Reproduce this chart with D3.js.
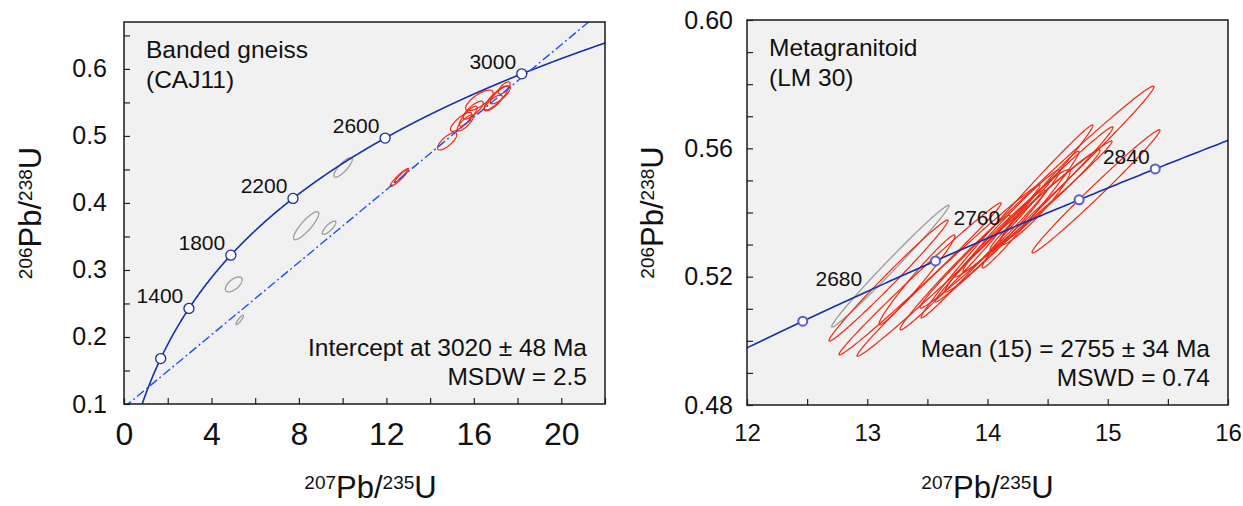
<!DOCTYPE html>
<html>
<head>
<meta charset="utf-8">
<script src="https://cdn.jsdelivr.net/npm/d3@7"></script>
<style>
  body { margin: 0; background: #fff; }
  svg { font-family: "Liberation Sans", Arial, sans-serif; }
</style>
</head>
<body>
<svg id="chart" width="1243" height="506"></svg>
<script>
// decay constants (per year)
const L238 = 1.55125e-10, L235 = 9.8485e-10;

// ---- left panel: Banded gneiss (CAJ11)
const leftXLabels = [0, 4, 8, 12, 16, 20];
const leftYLabels = [0.1, 0.2, 0.3, 0.4, 0.5, 0.6];
const leftMarkerAges = [1000, 1400, 1800, 2200, 2600, 3000];
const leftLabelAges = [1400, 1800, 2200, 2600, 3000];
const leftIntercepts = [760, 3020];
// [207Pb/235U, 206Pb/238U, err x, err y, rho]
const leftGray = [
  [10.02, 0.453, 0.42, 0.0146, 0.82],
  [8.33, 0.366, 0.577, 0.0209, 0.86],
  [9.38, 0.363, 0.307, 0.0100, 0.80],
  [5.02, 0.2785, 0.384, 0.0112, 0.61],
  [5.29, 0.2254, 0.17, 0.0070, 0.88]
];
const leftRed = [
  [12.60, 0.438, 0.42, 0.0133, 0.93],
  [12.66, 0.440, 0.30, 0.0100, 0.95],
  [14.78, 0.492, 0.44, 0.0130, 0.76],
  [15.42, 0.521, 0.49, 0.0142, 0.80],
  [16.25, 0.553, 0.627, 0.0154, 0.75],
  [15.74, 0.5295, 0.41, 0.0149, 0.85],
  [15.97, 0.5385, 0.458, 0.0134, 0.80],
  [15.61, 0.5194, 0.366, 0.0119, 0.80],
  [17.03, 0.5567, 0.55, 0.0179, 0.85],
  [17.21, 0.5612, 0.458, 0.0134, 0.80],
  [16.89, 0.5493, 0.41, 0.0119, 0.80],
  [17.39, 0.5716, 0.27, 0.0090, 0.70]
];

// ---- right panel: Metagranitoid (LM 30)
const rightXLabels = [12, 13, 14, 15, 16];
const rightYLabels = [0.48, 0.52, 0.56, 0.60];
const rightMarkerAges = [2640, 2720, 2800, 2840];
const rightLabelAges = [2680, 2760, 2840];
const rightGray = [
  [13.192, 0.5233, 0.488, 0.0190, 0.992]
];
const rightRed = [
  [13.177, 0.5188, 0.495, 0.01886, 0.991],
  [13.439, 0.5193, 0.674, 0.0237, 0.994],
  [13.676, 0.5219, 0.761, 0.0267, 0.994],
  [13.414, 0.5190, 0.316, 0.0140, 0.980],
  [14.412, 0.5448, 0.973, 0.0346, 0.994],
  [14.162, 0.5372, 0.715, 0.0301, 0.9945],
  [14.304, 0.5394, 0.740, 0.0273, 0.994],
  [14.383, 0.5411, 0.653, 0.0212, 0.993],
  [14.358, 0.5409, 0.403, 0.0182, 0.988],
  [14.902, 0.5466, 0.532, 0.0192, 0.991],
  [14.200, 0.5374, 0.403, 0.0159, 0.983],
  [14.062, 0.5311, 0.416, 0.0159, 0.983],
  [13.730, 0.5213, 0.457, 0.0179, 0.989],
  [14.478, 0.5439, 0.457, 0.0156, 0.985],
  [14.395, 0.5416, 0.291, 0.0117, 0.945]
];

const svg = d3.select("#chart");

function conc(ma) {
  const t = ma * 1e6;
  return [Math.exp(L235 * t) - 1, Math.exp(L238 * t) - 1];
}

function ellipsePts(d) {
  const [cx, cy, sx, sy, r] = d;
  const k = Math.sqrt(1 - r * r);
  return d3.range(0, 2 * Math.PI, Math.PI / 90)
    .map(a => [cx + sx * Math.cos(a), cy + sy * (r * Math.cos(a) + k * Math.sin(a))]);
}

function supText(sel, parts, big, small) {
  // parts: [sup, text, sup, text]
  sel.attr("font-size", big);
  sel.append("tspan").attr("font-size", small).attr("dy", -9).text(parts[0]);
  sel.append("tspan").attr("dy", 9).text(parts[1]);
  sel.append("tspan").attr("font-size", small).attr("dy", -9).text(parts[2]);
  sel.append("tspan").attr("dy", 9).text(parts[3]);
}

function panel(o) {
  const x = d3.scaleLinear().domain(o.xDom).range([o.left, o.right]);
  const y = d3.scaleLinear().domain(o.yDom).range([o.bottom, o.top]);
  const g = svg.append("g");

  g.append("rect")
    .attr("x", o.left).attr("y", o.top)
    .attr("width", o.right - o.left).attr("height", o.bottom - o.top)
    .attr("fill", "#f1f1f1");

  svg.append("clipPath").attr("id", "clip-" + o.id)
    .append("rect")
    .attr("x", o.left).attr("y", o.top)
    .attr("width", o.right - o.left).attr("height", o.bottom - o.top);

  const plot = g.append("g").attr("clip-path", `url(#clip-${o.id})`);

  const line = d3.line().x(p => x(p[0])).y(p => y(p[1]));
  const closed = d3.line().x(p => x(p[0])).y(p => y(p[1])).curve(d3.curveLinearClosed);

  plot.selectAll("path.gray")
    .data(o.gray)
    .join("path")
    .attr("class", "gray")
    .attr("d", d => closed(ellipsePts(d)))
    .attr("fill", "none")
    .attr("stroke", "#9b9b9b")
    .attr("stroke-width", 1.3);

  plot.selectAll("path.red")
    .data(o.red)
    .join("path")
    .attr("class", "red")
    .attr("d", d => closed(ellipsePts(d)))
    .attr("fill", "none")
    .attr("stroke", "#ee2a12")
    .attr("stroke-width", 1.2);

  // concordia curve
  const ages = d3.range(o.ageRange[0], o.ageRange[1], 2).concat([o.ageRange[1]]);
  plot.append("path")
    .attr("d", line(ages.map(conc)))
    .attr("fill", "none")
    .attr("stroke", "#1430a8")
    .attr("stroke-width", 1.6);

  // discordia
  if (o.intercepts) {
    const a = conc(o.intercepts[0]), b = conc(o.intercepts[1]);
    const s = (b[1] - a[1]) / (b[0] - a[0]);
    const ends = o.xDom.map(v => [v, a[1] + s * (v - a[0])]);
    plot.append("path")
      .attr("d", line(ends))
      .attr("fill", "none")
      .attr("stroke", "#2050f0")
      .attr("stroke-width", 1.4)
      .attr("stroke-dasharray", "9,3,2,3");
  }

  plot.selectAll("circle")
    .data(o.markers)
    .join("circle")
    .attr("cx", d => x(conc(d)[0]))
    .attr("cy", d => y(conc(d)[1]))
    .attr("r", o.markR)
    .attr("fill", "#fff")
    .attr("stroke", o.markColor)
    .attr("stroke-width", o.markW);

  g.selectAll("text.age")
    .data(o.labels)
    .join("text")
    .attr("class", "age")
    .attr("x", d => x(conc(d)[0]) - 29)
    .attr("y", d => y(conc(d)[1]) - 5)
    .attr("text-anchor", "middle")
    .attr("font-size", 21)
    .attr("fill", "#111")
    .text(d => d);

  // axes with inside ticks
  const near = (v, arr) => arr.some(m => Math.abs(m - v) < 1e-9);
  const xAxis = d3.axisBottom(x)
    .tickValues(o.xMinor)
    .tickSize(-6)
    .tickPadding(o.xPad)
    .tickFormat(v => near(v, o.xLabels) ? o.xFmt(v) : "");
  const gx = g.append("g")
    .attr("transform", `translate(0,${o.bottom})`)
    .call(xAxis);
  gx.select(".domain").remove();
  gx.selectAll("text").attr("font-size", o.xFont).attr("fill", "#111").attr("font-family", null);
  gx.selectAll("line").attr("stroke", "#222").attr("stroke-width", 1.2);

  const yAxis = d3.axisLeft(y)
    .tickValues(o.yMinor)
    .tickSize(-6)
    .tickPadding(o.yPad)
    .tickFormat(v => near(v, o.yLabels) ? o.yFmt(v) : "");
  const gy = g.append("g")
    .attr("transform", `translate(${o.left},0)`)
    .call(yAxis);
  gy.select(".domain").remove();
  gy.selectAll("text").attr("font-size", 25).attr("fill", "#111").attr("font-family", null);
  gy.selectAll("line").attr("stroke", "#222").attr("stroke-width", 1.2);

  g.append("rect")
    .attr("x", o.left).attr("y", o.top)
    .attr("width", o.right - o.left).attr("height", o.bottom - o.top)
    .attr("fill", "none")
    .attr("stroke", "#1a1a1a")
    .attr("stroke-width", 1.5);

  // sample name
  const name = g.append("text").attr("font-size", 24.5).attr("fill", "#111");
  name.append("tspan").attr("x", o.left + 22).attr("y", o.top + 36).text(o.name[0]);
  name.append("tspan").attr("x", o.left + 22).attr("y", o.top + 66).text(o.name[1]);

  const res = g.append("text").attr("font-size", 24.5).attr("fill", "#111").attr("text-anchor", "end");
  res.append("tspan").attr("x", o.right - 18).attr("y", o.bottom - 48).text(o.result[0]);
  res.append("tspan").attr("x", o.right - 18).attr("y", o.bottom - 19).text(o.result[1]);

  // axis titles
  g.append("text")
    .attr("x", (o.left + o.right) / 2 + o.xTitleShift)
    .attr("y", 498)
    .attr("text-anchor", "middle")
    .attr("fill", "#111")
    .call(supText, ["207", "Pb/", "235", "U"], 31, 19);

  g.append("text")
    .attr("transform", `translate(${o.yTitleX},${(o.top + o.bottom) / 2}) rotate(-90)`)
    .attr("text-anchor", "middle")
    .attr("fill", "#111")
    .call(supText, ["206", "Pb/", "238", "U"], 31, 19);
}

panel({
  id: "left",
  left: 124, right: 605, top: 22, bottom: 404,
  xDom: [0, 22], yDom: [0.1, 0.67],
  xMinor: d3.range(0, 22.01, 2), yMinor: d3.range(0.1, 0.67, 0.05),
  xLabels: leftXLabels, yLabels: leftYLabels,
  xFmt: d3.format("d"), yFmt: d3.format(".1f"),
  xFont: 32, xPad: 18, yPad: 17,
  gray: leftGray, red: leftRed,
  ageRange: [600, 3200],
  intercepts: leftIntercepts,
  markers: leftMarkerAges, labels: leftLabelAges,
  markR: 5, markColor: "#1a2a9a", markW: 1.3,
  name: ["Banded gneiss", "(CAJ11)"],
  result: ["Intercept at 3020 \u00b1 48 Ma", "MSDW = 2.5"],
  xTitleShift: 6, yTitleX: 41
});

panel({
  id: "right",
  left: 747, right: 1228, top: 20, bottom: 405,
  xDom: [12, 16], yDom: [0.48, 0.60],
  xMinor: d3.range(12, 16.01, 0.5), yMinor: d3.range(0.48, 0.6001, 0.01),
  xLabels: rightXLabels, yLabels: rightYLabels,
  xFmt: d3.format("d"), yFmt: d3.format(".2f"),
  xFont: 24, xPad: 19, yPad: 14,
  gray: rightGray, red: rightRed,
  ageRange: [2590, 2890],
  intercepts: null,
  markers: rightMarkerAges, labels: rightLabelAges,
  markR: 4.5, markColor: "#5b5bc9", markW: 2,
  name: ["Metagranitoid", "(LM 30)"],
  result: ["Mean (15) = 2755 \u00b1 34 Ma", "MSWD = 0.74"],
  xTitleShift: 0, yTitleX: 663
});
</script>
</body>
</html>
